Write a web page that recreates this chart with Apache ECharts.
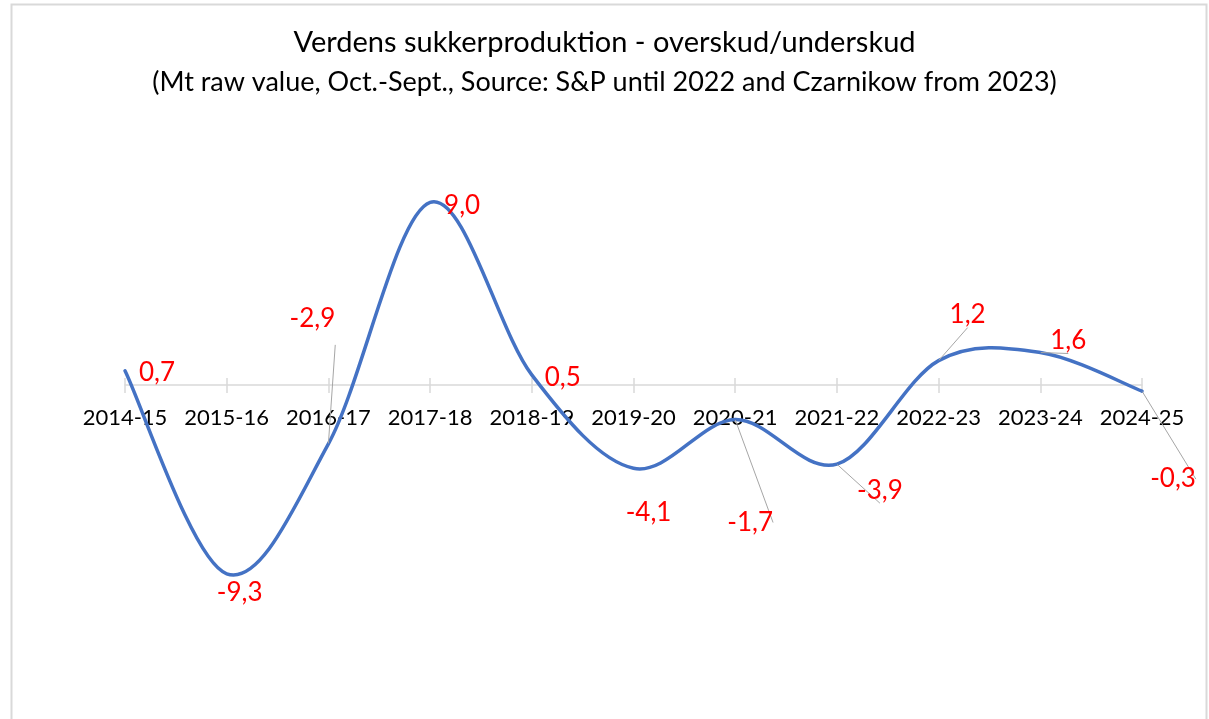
<!DOCTYPE html>
<html>
<head>
<meta charset="utf-8">
<script src="https://cdn.jsdelivr.net/npm/echarts@6/dist/echarts.min.js"></script>
<style>
html,body{margin:0;padding:0;background:#fff;}
#chart{width:1209px;height:719px;}
</style>
</head>
<body>
<div id="chart"></div>
<script>
const categories = ['2014-15','2015-16','2016-17','2017-18','2018-19','2019-20','2020-21','2021-22','2022-23','2023-24','2024-25'];
const surplus = [0.7, -9.3, -2.9, 9.0, 0.5, -4.1, -1.7, -3.9, 1.2, 1.6, -0.3];
const titleText = 'Verdens sukkerproduktion - overskud/underskud';
const subtitleText = '(Mt raw value, Oct.-Sept., Source: S&P until 2022 and Czarnikow from 2023)';

// label placement (pixel offsets from each point) and whether a leader line is drawn
const labelOffsets = [[32,2],[13,19],[-16,-125],[32,3],[31,3],[15,44],[15,103],[43,26],[29,-46],[28,-12],[31,88]];
const leaderLines = [false,false,true,false,false,false,true,true,true,true,true];

const FONT = 'Lato, "Open Sans", sans-serif';
const LINE_COLOR = '#4472C4';
const Y_MIN = -10, Y_MAX = 10;
const GRID = { left: 125, right: 67, top: 182, bottom: 131 };
const gridHeight = 719 - GRID.top - GRID.bottom;
const zeroFromBottom = gridHeight * (0 - Y_MIN) / (Y_MAX - Y_MIN);
const zeroFromTop = gridHeight - zeroFromBottom;

const chart = echarts.init(document.getElementById('chart'));

const seriesData = surplus.map((v, i) => ({
  value: v,
  label: { offset: labelOffsets[i] },
  labelLine: { show: leaderLines[i] }
}));

// Excel-style smoothed curve (Catmull-Rom Bezier) through points mapped by the axes
function renderSmoothLine(params, api) {
  if (params.dataIndex !== 0) return null;
  const pts = surplus.map((v, i) => api.coord([i, v]));
  const n = pts.length;
  let d = 'M' + pts[0][0] + ',' + pts[0][1];
  for (let i = 0; i < n - 1; i++) {
    const p0 = pts[Math.max(i - 1, 0)], p1 = pts[i], p2 = pts[i + 1], p3 = pts[Math.min(i + 2, n - 1)];
    const c1x = p1[0] + (p2[0] - p0[0]) / 6, c1y = p1[1] + (p2[1] - p0[1]) / 6;
    const c2x = p2[0] - (p3[0] - p1[0]) / 6, c2y = p2[1] - (p3[1] - p1[1]) / 6;
    d += ' C' + c1x + ',' + c1y + ' ' + c2x + ',' + c2y + ' ' + p2[0] + ',' + p2[1];
  }
  return {
    type: 'path',
    shape: { pathData: d },
    style: { fill: 'none', stroke: LINE_COLOR, lineWidth: 3.5, lineJoin: 'round', lineCap: 'round' },
    silent: true
  };
}

chart.setOption({
  animation: false,
  backgroundColor: '#ffffff',
  graphic: [{
    type: 'rect', silent: true, z: -10,
    shape: { x: 11.5, y: 4.5, width: 1195, height: 740 },
    style: { fill: 'none', stroke: '#d9d9d9', lineWidth: 2 }
  }],
  title: [
    { text: titleText, left: 'center', top: 23,
      textStyle: { fontFamily: FONT, fontSize: 29, fontWeight: 'normal', color: '#000' } },
    { text: subtitleText, left: 'center', top: 64,
      textStyle: { fontFamily: FONT, fontSize: 27, fontWeight: 'normal', color: '#000' } }
  ],
  grid: Object.assign({ containLabel: false }, GRID),
  xAxis: [{
    type: 'category', data: categories, boundaryGap: false, position: 'bottom',
    offset: -zeroFromBottom,
    axisLine: { onZero: false, lineStyle: { color: '#d9d9d9', width: 1.5 } },
    axisTick: { show: true, length: 8, lineStyle: { color: '#d9d9d9', width: 1.5 } },
    axisLabel: { margin: 22, color: '#000', fontFamily: FONT, fontSize: 22, interval: 0 },
    splitLine: { show: false }
  }, {
    type: 'category', data: categories, boundaryGap: false, position: 'top',
    offset: -zeroFromTop,
    axisLine: { show: false, onZero: false },
    axisTick: { show: true, length: 7, lineStyle: { color: '#d9d9d9', width: 1.5 } },
    axisLabel: { show: false },
    splitLine: { show: false }
  }],
  yAxis: { type: 'value', min: Y_MIN, max: Y_MAX, interval: 2, show: false,
    splitLine: { show: false } },
  series: [{
    type: 'custom',
    xAxisIndex: 0,
    renderItem: renderSmoothLine,
    data: surplus.map((v, i) => [i, v]),
    z: 5,
    silent: true
  }, {
    type: 'line',
    xAxisIndex: 0,
    data: seriesData,
    symbol: 'circle', symbolSize: 1, showSymbol: true,
    itemStyle: { color: 'rgba(0,0,0,0)', borderWidth: 0 },
    lineStyle: { width: 0, opacity: 0 },
    z: 6,
    label: {
      show: true, position: 'inside',
      color: '#ff0000', fontFamily: FONT, fontSize: 26,
      formatter: p => p.value.toFixed(1).replace('.', ',')
    },
    labelLine: { show: true, lineStyle: { color: '#a6a6a6', width: 1 } },
    emphasis: { disabled: true }
  }]
});
</script>
</body>
</html>
